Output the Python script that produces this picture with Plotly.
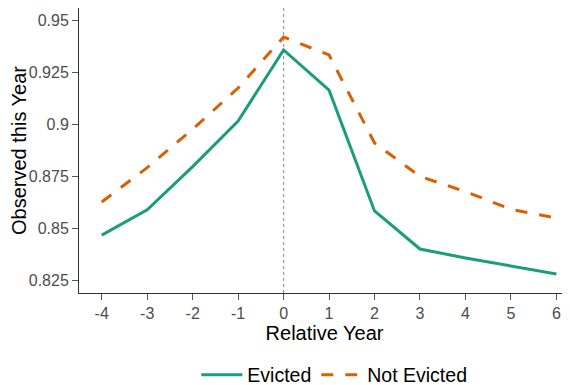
import plotly.graph_objects as go

years = [-4, -3, -2, -1, 0, 1, 2, 3, 4, 5, 6]
evicted = [0.8466, 0.8587, 0.8795, 0.9014, 0.9356, 0.9163, 0.8582, 0.8399, 0.8356, 0.8317, 0.8279]
not_evicted = [0.8625, 0.8790, 0.8975, 0.9173, 0.9418, 0.9332, 0.8909, 0.8748, 0.8675, 0.8590, 0.8548]
y_ticks = [0.825, 0.85, 0.875, 0.9, 0.925, 0.95]
y_tick_text = ["0.825", "0.85", "0.875", "0.9", "0.925", "0.95"]
x_ticks = years
x_tick_text = ["-4", "-3", "-2", "-1", "0", "1", "2", "3", "4", "5", "6"]

FONT = "Liberation Sans, Arial, sans-serif"

fig = go.Figure()
fig.add_trace(go.Scatter(x=years, y=evicted, mode="lines", name="Evicted",
                         line=dict(color="#1b9e77", width=3)))
fig.add_trace(go.Scatter(x=years, y=not_evicted, mode="lines", name="Not Evicted",
                         line=dict(color="#d95f02", width=3, dash="12px,12px")))
fig.add_shape(type="line", x0=0, x1=0, y0=0, y1=1, xref="x", yref="paper",
              line=dict(color="#999999", width=1.2, dash="dot"), layer="below")

axis_common = dict(showgrid=False, zeroline=False, showline=True, linecolor="#333333",
                   linewidth=1, ticks="outside", ticklen=6, tickcolor="#555555",
                   automargin=False,
                   tickfont=dict(family=FONT, size=16, color="#4d4d4d"))
fig.update_layout(
    width=562, height=377,
    margin=dict(l=71, r=0, t=0, b=92, autoexpand=False),
    plot_bgcolor="white", paper_bgcolor="white",
    font=dict(family=FONT),
    xaxis=dict(range=[-4.5, 6.3], tickvals=x_ticks, ticktext=x_tick_text,
               title=dict(text="Relative Year", font=dict(family=FONT, size=20, color="black"), standoff=3),
               **axis_common),
    yaxis=dict(range=[0.81875, 0.95577], tickvals=y_ticks, ticktext=y_tick_text,
               title=dict(text="Observed this Year", font=dict(family=FONT, size=20, color="black"), standoff=4),
               **axis_common),
    legend=dict(orientation="h", x=0.52, xanchor="center", y=-0.2877, yanchor="middle",
                itemwidth=41, font=dict(family=FONT, size=19.5, color="black")),
    showlegend=True,
)
fig.write_html("out.html")
